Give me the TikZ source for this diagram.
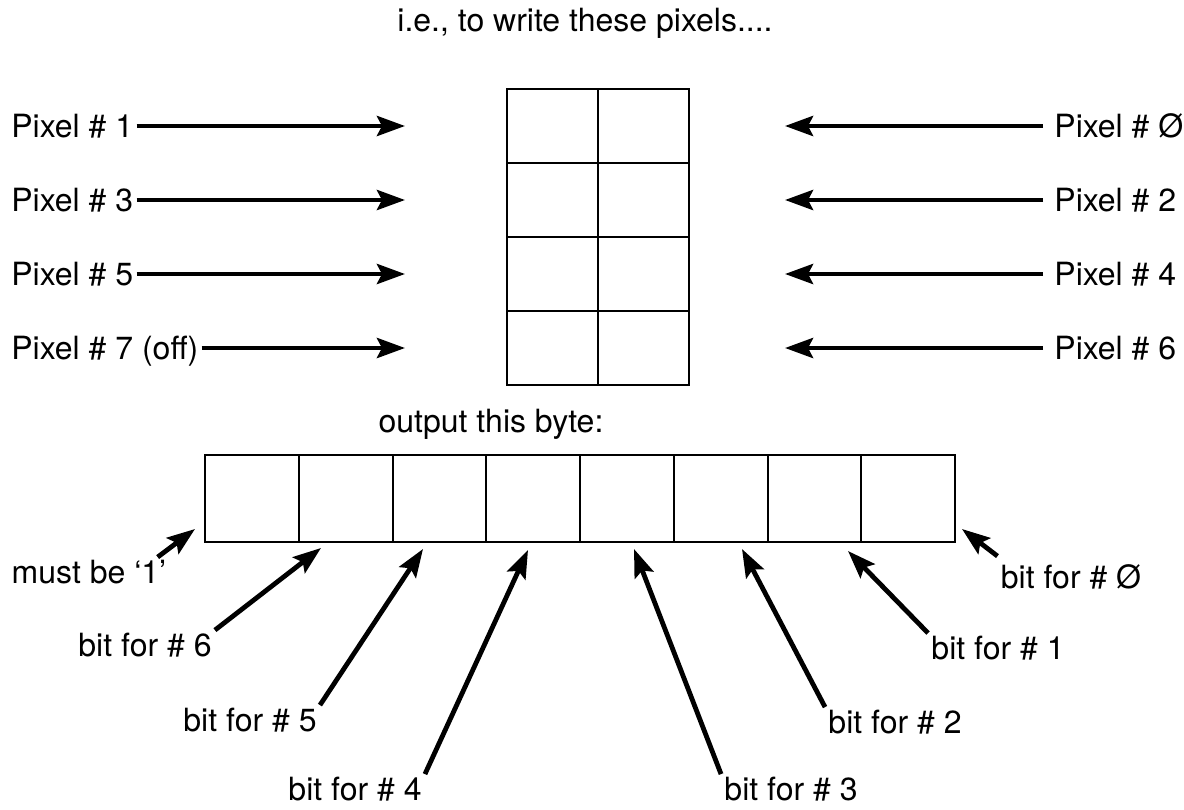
\documentclass[tikz,border=0pt]{standalone}
\usepackage{fontspec}
\setmainfont{TeX Gyre Heros}
\usetikzlibrary{arrows.meta}

\begin{document}
\begin{tikzpicture}[
      x=0.5pt, y=-0.5pt,
      every node/.style={font=\fontsize{16}{19}\selectfont},
      lbl/.style={inner sep=1.5pt, text height=11.5pt, text depth=0pt},
      pixcell/.style={rectangle, draw, line width=1pt, minimum width=45.5pt,
                      minimum height=37pt, inner sep=0pt, outer sep=0pt},
      bitcell/.style={pixcell, minimum width=46.875pt, minimum height=43.5pt},
      arr/.style={-{Stealth[length=14pt, width=10pt, inset=2.5pt]}, line width=2.4pt}
    ]
      \useasboundingbox (0,0) rectangle (1184,809);

      \node[lbl] (title) at (585,20) {i.e., to write these pixels....};

      % 2 x 4 pixel block
      \foreach \r in {0,...,3} {
        \pgfmathtruncatemacro\ev{2*\r}
        \pgfmathtruncatemacro\od{2*\r+1}
        \node[pixcell] (p\od) at (552.5,{126+74*\r}) {};
        \node[pixcell] (p\ev) at (643.5,{126+74*\r}) {};
      }

      \node[lbl, anchor=west] (n1) at (8,126) {Pixel \# 1};
      \node[lbl, anchor=west] (n3) at (8,200) {Pixel \# 3};
      \node[lbl, anchor=west] (n5) at (8,274) {Pixel \# 5};
      \node[lbl, anchor=west] (n7) at (8,348) {Pixel \# 7 (off)};
      \node[lbl, anchor=west] (n0) at (1051,126) {Pixel \# Ø};
      \node[lbl, anchor=west] (n2) at (1051,200) {Pixel \# 2};
      \node[lbl, anchor=west] (n4) at (1051,274) {Pixel \# 4};
      \node[lbl, anchor=west] (n6) at (1051,348) {Pixel \# 6};

      \foreach \k in {1,3,5,7}
        \draw[arr, shorten >=51pt] (n\k) -- (p\k);
      \foreach \k in {0,2,4,6}
        \draw[arr, shorten >=48pt, shorten <=4pt] (n\k) -- (p\k);

      % the byte
      \node[lbl] (outtxt) at (491,421) {output this byte:};
      \foreach \i in {0,...,7} {
        \pgfmathtruncatemacro\bn{7-\i}
        \node[bitcell] (b\bn) at ({251.875+93.75*\i},498.5) {};
      }

      \coordinate (t7) at (195,529);
      \coordinate (t6) at (321,548);
      \coordinate (t5) at (423,549);
      \coordinate (t4) at (528,550);
      \coordinate (t3) at (634,549);
      \coordinate (t2) at (742,549);
      \coordinate (t1) at (848,551);
      \coordinate (t0) at (962,529);

      \node[lbl] (lb7) at (89,572) {must be ‘1’};
      \node[lbl] (lb6) at (145,645) {bit for \# 6};
      \node[lbl] (lb5) at (250,720) {bit for \# 5};
      \node[lbl] (lb4) at (355,789) {bit for \# 4};
      \node[lbl] (lb3) at (791,789) {bit for \# 3};
      \node[lbl] (lb2) at (895,722) {bit for \# 2};
      \node[lbl] (lb1) at (998,648) {bit for \# 1};
      \node[lbl] (lb0) at (1071,577) {bit for \# Ø};

      \draw[arr] ([xshift=-6pt]lb7.north east) -- (t7);
      \foreach \k in {6,5,4}
        \draw[arr] (lb\k.north east) -- (t\k);
      \foreach \k in {3,2,1}
        \draw[arr] (lb\k.north west) -- (t\k);
      \draw[arr] ([yshift=3pt]lb0.north west) -- (t0);
    \end{tikzpicture}
\end{document}
